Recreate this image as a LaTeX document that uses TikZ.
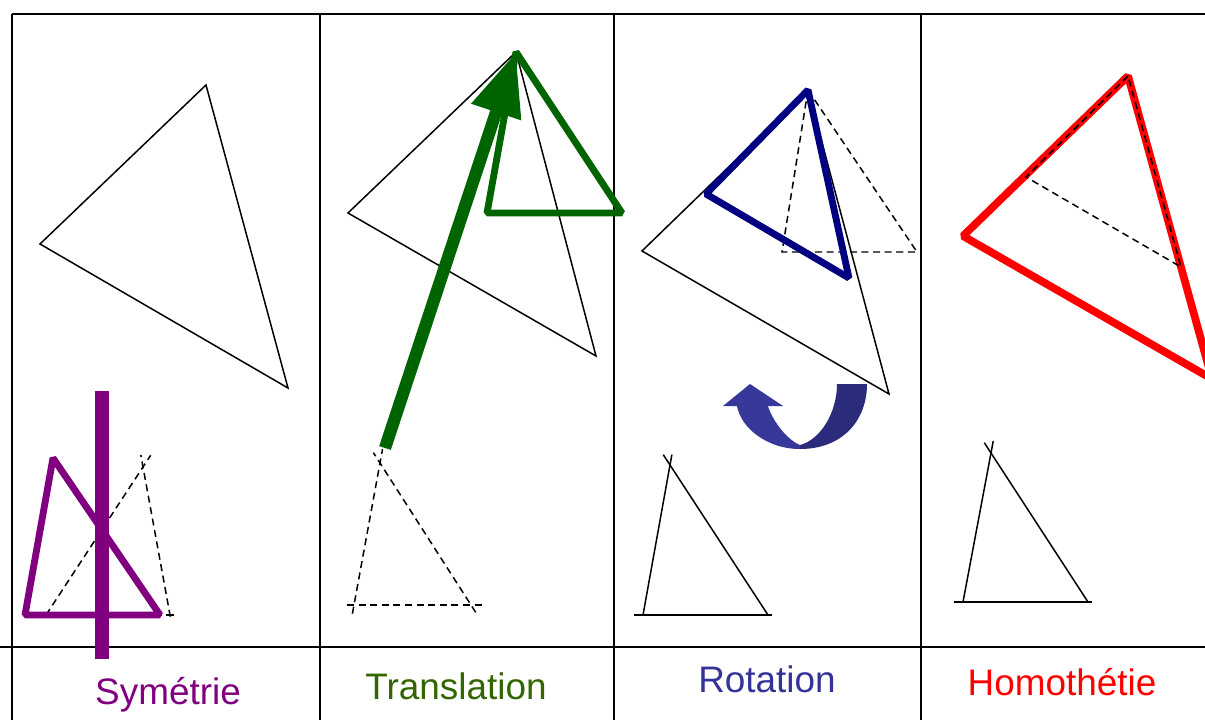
\documentclass[tikz,border=0pt]{standalone}
\usepackage{fontspec}
\setmainfont{Liberation Sans}
\usetikzlibrary{arrows.meta,calc}

\definecolor{symcol}{HTML}{800080}
\definecolor{tracol}{HTML}{006400}
\definecolor{tralbl}{HTML}{336600}
\definecolor{rotcol}{HTML}{000080}
\definecolor{rotlbl}{HTML}{333399}
\definecolor{rotarrA}{HTML}{36389A}
\definecolor{rotarrB}{HTML}{2B2B7C}
\definecolor{homcol}{HTML}{FF0000}

\begin{document}
\begin{tikzpicture}[x=0.02cm, y=-0.02cm,
  grid/.style={line width=1.1pt},
  orig/.style={line width=0.85pt, line join=miter},
  constr/.style={line width=0.85pt, dash pattern=on 4pt off 2.6pt},
  imgtri/.style={line width=3.9pt, line join=bevel},
  lbl/.style={font=\fontsize{21}{25}\selectfont, anchor=base, inner sep=0pt},
]
\useasboundingbox (0,0) rectangle (1205,720);
\clip (0,0) rectangle (1205,720);

% grid
\draw[grid] (12,14) -- (1205,14);
\draw[grid] (0,647) -- (1205,647);
\foreach \x in {12,320,614,921}
  \draw[grid] (\x,14) -- (\x,720);

% --- symetrie
\coordinate (sa) at (40,244);
\coordinate (sb) at (206,85);
\coordinate (sc) at (288,388);
\draw[orig] (sa) -- (sb) -- (sc) -- cycle;

\coordinate (st) at (143,467);
\coordinate (sl) at (46,615);
\coordinate (sr) at (170,615);
\draw[constr, shorten >=-8pt] (sl) -- (st);
\draw[constr, shorten >=-7pt, shorten <=-1pt] (sr) -- (st);
\draw[constr, shorten >=-5pt, shorten <=-2pt] (sr) -- (sl);

\coordinate (pt) at (53,458);
\coordinate (pl) at (25,615);
\coordinate (pr) at (160,615);
\draw[imgtri, symcol] (pt) -- (pl) -- (pr) -- cycle;

\coordinate (axtop) at (102,391);
\coordinate (axbot) at (102,659);
\draw[line width=7.4pt, symcol] (axtop) -- (axbot);

% --- translation
\coordinate (ta) at (348,213);
\coordinate (tb) at (516,52);
\coordinate (tc) at (596,356);
\draw[orig] (ta) -- (tb) -- (tc) -- cycle;

\coordinate (tt) at (380,463);
\coordinate (tl) at (354,605);
\coordinate (tr) at (471,605);
\draw[constr, shorten >=-8pt, shorten <=-5pt] (tl) -- (tt);
\draw[constr, shorten >=-7pt, shorten <=-5pt] (tr) -- (tt);
\draw[constr, shorten >=-5pt, shorten <=-6pt] (tr) -- (tl);

\coordinate (gt) at (516,52);
\coordinate (gl) at (487,213);
\coordinate (gr) at (622,213);
\draw[imgtri, tracol] (gt) -- (gl) -- (gr) -- cycle;

\coordinate (vstart) at (385,448);
\coordinate (vtip) at (516,52);
\draw[tracol, line width=7pt, -{Triangle[length=36pt,width=28pt]}] (vstart) -- (vtip);

% --- rotation
\coordinate (ra) at (642,251);
\coordinate (rb) at (808,90);
\coordinate (rc) at (889,394);
\draw[orig] (ra) -- (rb) -- (rc) -- cycle;

\coordinate (dl) at (782,252);
\coordinate (dr) at (917,252);
\draw[constr] (rb) -- (dl) -- (dr) -- cycle;

\coordinate (bl) at (706,194);
\coordinate (br) at (849,278);
\draw[imgtri, rotcol] (rb) -- (bl) -- (br) -- cycle;

% curved arrow
\fill[rotarrA] (737,406) .. controls (741,428) and (767,449) .. (800,449)
  -- (800,445) .. controls (787,440) and (772,420) .. (768,406) -- cycle;
\fill[rotarrA] (723,406) -- (750,384) -- (783,406) -- cycle;
\fill[rotarrB] (800,449) .. controls (843,449) and (867,420) .. (867,384)
  -- (837,384) .. controls (837,413) and (820,440) .. (800,445) -- cycle;

\coordinate (qt) at (670,465);
\coordinate (ql) at (643,615);
\coordinate (qr) at (768,615);
\draw[orig, shorten >=-6pt] (ql) -- (qt);
\draw[orig, shorten >=-7pt] (qr) -- (qt);
\draw[orig, shorten >=-2pt, shorten <=-5pt] (ql) -- (qr);

% --- homothetie
\coordinate (ha) at (963,236);
\coordinate (hb) at (1128,76);
\coordinate (hc) at (1212,379);
\draw[imgtri, line width=4.4pt, homcol] (ha) -- (hb) -- (hc) -- cycle;

\coordinate (hl) at (1026,177);
\coordinate (hr) at (1181,267);
\draw[constr] (hb) -- (hl) -- (hr) -- cycle;

\coordinate (kt) at (991,453);
\coordinate (kl) at (963,602);
\coordinate (kr) at (1088,602);
\draw[orig, shorten >=-7pt] (kl) -- (kt);
\draw[orig, shorten >=-7pt] (kr) -- (kt);
\draw[orig, shorten >=-2pt, shorten <=-5pt] (kl) -- (kr);

% labels
\node[lbl, text=symcol] (lsym) at (168,704) {Symétrie};
\node[lbl, text=tralbl] (ltra) at (456,699) {Translation};
\node[lbl, text=rotlbl] (lrot) at (767,692) {Rotation};
\node[lbl, text=homcol] (lhom) at (1062,695) {Homothétie};
\end{tikzpicture}
\end{document}
